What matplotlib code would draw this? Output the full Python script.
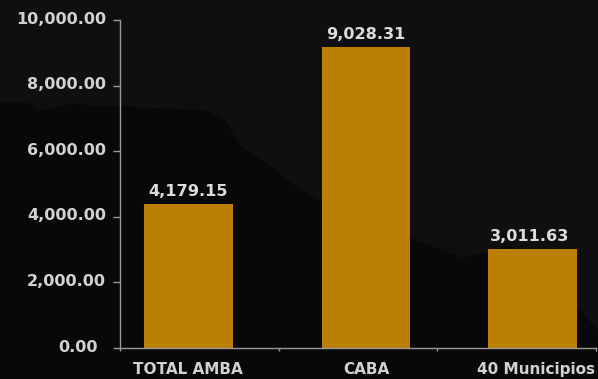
import matplotlib
matplotlib.use("Agg")
import matplotlib.pyplot as plt
from matplotlib.patches import Polygon
from matplotlib.transforms import ScaledTranslation

categories = ["TOTAL AMBA", "CABA", "40 Municipios"]
# bar heights as drawn in the picture, they do not quite agree with the printed labels
values = [4370, 9170, 3010]
value_labels = ["4,179.15", "9,028.31", "3,011.63"]
y_ticks = [0, 2000, 4000, 6000, 8000, 10000]

W, H = 598, 379
TXT = '#d2d2d2'
LINE = '#9a9a9a'

plt.rcParams['font.family'] = ['DejaVu Sans']

fig = plt.figure(figsize=(W/100, H/100), dpi=100, facecolor='#0f0f0f')

# darker map silhouette behind the chart
shape = [(0, 103), (30, 103), (40, 110), (70, 104), (110, 106), (130, 107), (205, 110), (225, 120),
         (240, 145), (270, 165), (300, 190), (360, 220), (416, 240), (463, 258), (510, 245),
         (560, 290), (598, 330), (598, 379), (0, 379)]
fig.patches.append(Polygon([(x/W, 1-y/H) for x, y in shape], closed=True, transform=fig.transFigure,
                           facecolor='#080808', edgecolor='none', zorder=-1))

ax = fig.add_axes([120/W, 1-347.5/H, 476/W, 327.5/H])
ax.patch.set_alpha(0)

# the bars are not centred in their bands in the reference
x_pos = [0.43, 1.55, 2.60]
label_x = [0.43, 1.55, 2.58]
cat_x = [0.43, 1.55, 2.62]
ax.bar(x_pos, values, width=0.56, color='#bb7f03')
for i in range(3):
    ax.text(label_x[i], values[i]+160, value_labels[i], ha='center', va='bottom',
            color='#dcdcdc', fontsize=11.6, fontweight='bold')

ax.set_xlim(0, 3)
ax.set_ylim(0, 10000)
ax.set_xticks([0, 1, 2, 3])
ax.set_xticklabels([])
ax.tick_params(axis='x', length=2, color=LINE, width=1)
for i in range(3):
    ax.annotate(categories[i], (cat_x[i], 0), xytext=(0, -15.5), textcoords='offset points',
                xycoords=('data', 'axes fraction'), ha='center', va='center',
                color=TXT, fontsize=11, fontweight='bold', annotation_clip=False)

ax.set_yticks(y_ticks)
labels = ax.set_yticklabels(["%s.00" % format(t, ",") for t in y_ticks], fontsize=11.5, color=TXT,
                            fontweight='bold')
ax.tick_params(axis='y', length=5, color=LINE, width=1, pad=5)
shift_up = ScaledTranslation(0, 1.5/72, fig.dpi_scale_trans)
for lbl in labels:
    lbl.set_transform(lbl.get_transform() + shift_up)
# 0.00 sits further left than the other tick labels
labels[0].set_transform(labels[0].get_transform() + ScaledTranslation(-6/72, -0.5/72, fig.dpi_scale_trans))

for s in ['top', 'right']:
    ax.spines[s].set_visible(False)
for s in ['left', 'bottom']:
    ax.spines[s].set_color(LINE)
    ax.spines[s].set_linewidth(1)

fig.savefig("out.png", dpi=100, facecolor=fig.get_facecolor())
